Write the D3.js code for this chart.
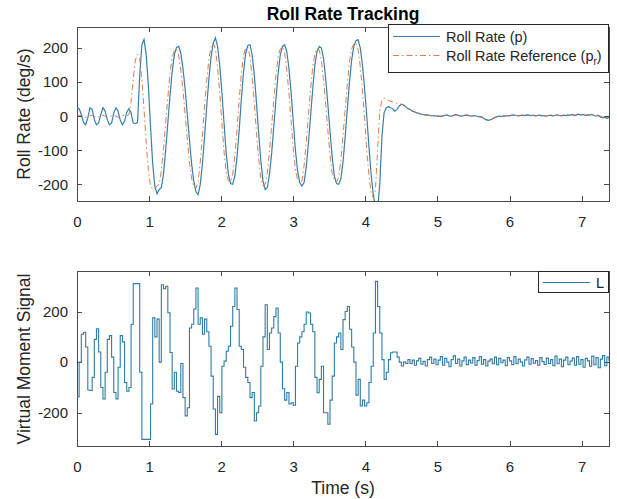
<!DOCTYPE html>
<html>
<head>
<meta charset="utf-8">
<script src="https://cdn.jsdelivr.net/npm/d3@7"></script>
<style>body{margin:0;background:#fff}</style>
</head>
<body>
<script>
// sample period of the logged signals (s)
const dt = 0.03;
const timeTicks = [0, 1, 2, 3, 4, 5, 6, 7];
const rateTicks = [-200, -100, 0, 100, 200];
const momentTicks = [-200, 0, 200];

// roll rate p (deg/s)
const rollRate = [
  25, 22, 5, -18, -25, -5, 25, 20, -10, -25, -20, 5, 25, 15, -10, -25, -20, 10, 25, 15, -12, -25, -15, 12, 22,
  10, -20, -22, -18, 120, 210, 225, 180, 90, -30, -140, -205, -228, -215, -210, -170, -100, -20, 60, 130, 180, 202, 205, 185, 140,
  80, 5, -70, -140, -190, -222, -230, -200, -140, -60, 30, 110, 175, 215, 230, 205, 150, 70, -20, -110, -170, -198, -200, -175, -120,
  -40, 50, 130, 185, 208, 210, 180, 120, 40, -50, -130, -190, -215, -210, -170, -110, -30, 50, 125, 180, 205, 210, 190, 140, 70,
  -15, -100, -160, -195, -205, -195, -150, -80, 0, 80, 150, 190, 205, 200, 170, 110, 35, -45, -120, -175, -198, -200, -185, -135, -60,
  20, 100, 165, 205, 222, 225, 200, 150, 80, 0, -90, -170, -230, -265, -275, -200, -60, 10, 25, 28, 25, 22, 15, 20, 30,
  35, 32, 28, 22, 20, 15, 13, 10, 9, 6, 5, 3, 4, 2, 1, 2, 0, 1, -1, 0, 2, 4, 1, 0, 2,
  5, 3, 1, 0, 2, 4, 2, 0, 1, 2, 0, -2, -1, -6, -10, -12, -11, -8, -4, -2, 0, -1, 1, 0, 2,
  1, 3, 4, 2, 1, 2, 3, 2, 4, 3, 2, 3, 1, 2, 3, 1, 2, 0, 2, 3, 1, 2, 4, 2, 1,
  3, 2, 4, 3, 5, 2, 4, 6, 3, 5, 2, 4, 3, 5, 2, 0, 3, -2, -5, -3, -6, -4
];

// roll rate reference p_r (deg/s)
const rollRateRef = [
  0, 2, 3, 0, -3, -2, 2, 3, 0, -3, -2, 2, 3, 0, -3, -2, 2, 3, 0, -3, -2, 2, 3, 0, 5,
  40, 110, 165, 182, 170, 110, 20, -80, -160, -205, -215, -212, -205, -200, -160, -95, -20, 55, 125, 172, 193, 197, 180, 135, 78,
  5, -68, -135, -182, -208, -212, -192, -135, -58, 30, 105, 168, 205, 215, 198, 145, 68, -20, -105, -165, -190, -193, -170, -115, -38,
  48, 125, 178, 200, 203, 175, 115, 38, -48, -125, -182, -205, -200, -165, -105, -28, 48, 120, 175, 198, 203, 185, 135, 68, -15,
  -95, -155, -188, -198, -190, -145, -78, 0, 78, 145, 183, 198, 195, 165, 105, 35, -43, -115, -168, -190, -193, -180, -130, -58, 20,
  95, 160, 198, 213, 215, 195, 145, 75, -10, -100, -175, -225, -240, -215, -100, 15, 48, 53, 50, 46, 44, 42, 40, 38, 36,
  35, 33, 30, 25, 20, 16, 12, 10, 8, 6, 5, 4, 3, 3, 2, 1, 1, 0, 0, 1, 2, 3, 2, 1, 1,
  3, 4, 2, 1, 1, 3, 3, 1, 0, 1, 1, -1, -3, -5, -8, -10, -10, -8, -5, -3, -1, 0, 0, 1, 1,
  2, 2, 3, 3, 2, 2, 2, 3, 3, 3, 2, 2, 2, 2, 2, 1, 1, 1, 2, 2, 2, 3, 3, 2, 2,
  2, 3, 3, 4, 4, 3, 3, 5, 4, 4, 3, 3, 4, 4, 3, 1, 1, 0, -2, -3, -4, -4
];

// virtual moment signal L
const momentL = [
  -137, 0, 110, 118, 60, -110, -112, -60, 90, 132, 40, -100, -145, -40, 90, 105, 20, -120, -145, -20, 105, 80, -80, -115, -100,
  150, 310, 310, 310, -40, -305, -305, -305, -305, -165, 175, 100, 170, 0, 306, 290, 300, 195, 38, -106, -40, -115, -120, -5, -140,
  -212, -180, 135, 150, 210, 293, 150, 175, 110, 170, 120, 63, -55, -185, -285, -135, -200, -16, 4, 43, 63, 142, 220, 293, 208,
  63, 50, -20, -60, -80, -140, -120, -232, -200, -173, -16, 100, 227, 50, 115, 135, 180, 214, 115, 0, -105, -150, -120, -165, -160,
  -170, -16, 76, 100, 120, 150, 198, 194, 150, 120, -60, -121, -68, -16, -200, -200, -245, -150, -55, 76, 100, 115, 50, 168, 200,
  220, 130, 60, 0, -130, -68, -173, -150, -173, -160, -80, -16, 115, 319, 220, 115, 10, -68, -40, 10, 37, 40, 40, 20, 0,
  -15, 0, -5, 10, -5, 8, -12, 5, 15, -8, 3, -15, 10, 20, -5, 12, -10, 8, 22, -12, 15, 0, -18, 10, 25,
  -5, 12, -15, 5, 20, -10, 8, -3, 18, -12, 6, 22, -8, 10, -15, 4, 12, -6, 20, -10, 15, -2, 8, -14, 18,
  5, -10, 22, -6, 12, 0, -15, 9, 20, -8, 14, -4, 6, -12, 18, 2, -9, 16, -5, 10, -14, 24, -6, 12, -18,
  8, 20, -10, 4, 16, -12, 22, -8, 10, -20, 15, 5, -16, 24, -10, 18, -22, 12, 26, -14, 20, 4
];

const W = 617, H = 499;
const font = "'Liberation Sans', Arial, Helvetica, sans-serif";
const axisColor = "#4a4a4a";
const textColor = "#262626";
const blue = "#3680ad";
const orange = "#d9652e";

const svg = d3.select("body").append("svg")
  .attr("width", W).attr("height", H)
  .style("font-family", font)
  .style("background", "#fff");

const x = d3.scaleLinear().domain([0, 7.38]).range([77, 609]);
const yTop = d3.scaleLinear().domain([-249, 262]).range([201, 27]);
const yBot = d3.scaleLinear().domain([-331, 360]).range([446, 271]);

const fmt = d => String(d);

function drawAxes(y, yticks, id) {
  const [y0, y1] = y.range();
  const [x0, x1] = x.range();

  svg.append("clipPath").attr("id", id)
    .append("rect").attr("x", x0).attr("y", y1).attr("width", x1 - x0).attr("height", y0 - y1);

  const bottom = svg.append("g").attr("transform", `translate(0,${y0})`)
    .call(d3.axisBottom(x).tickValues(timeTicks).tickFormat(fmt).tickSizeInner(-5).tickSizeOuter(0).tickPadding(15));
  const top = svg.append("g").attr("transform", `translate(0,${y1})`)
    .call(d3.axisTop(x).tickValues(timeTicks).tickFormat("").tickSizeInner(-5).tickSizeOuter(0));
  const left = svg.append("g").attr("transform", `translate(${x0},0)`)
    .call(d3.axisLeft(y).tickValues(yticks).tickFormat(fmt).tickSizeInner(-5).tickSizeOuter(0).tickPadding(9));
  const right = svg.append("g").attr("transform", `translate(${x1},0)`)
    .call(d3.axisRight(y).tickValues(yticks).tickFormat("").tickSizeInner(-5).tickSizeOuter(0));

  for (const a of [bottom, top, left, right]) {
    a.selectAll("path, line").attr("stroke", axisColor).attr("shape-rendering", "crispEdges");
    a.selectAll("text").attr("fill", textColor).style("font-size", "15px").style("font-family", font);
  }
}

function trace(y, curve) {
  return d3.line()
    .x((d, i) => x(i * dt))
    .y(d => y(d))
    .curve(curve);
}

// ---- top panel
drawAxes(yTop, rateTicks, "clipTop");
svg.append("path").datum(rollRate)
  .attr("clip-path", "url(#clipTop)")
  .attr("d", trace(yTop, d3.curveLinear))
  .attr("fill", "none").attr("stroke", blue).attr("stroke-width", 1.2);
svg.append("path").datum(rollRateRef)
  .attr("clip-path", "url(#clipTop)")
  .attr("d", trace(yTop, d3.curveLinear))
  .attr("fill", "none").attr("stroke", orange).attr("stroke-width", 1)
  .attr("stroke-dasharray", "6,3,1.5,3").attr("opacity", 0.85);

svg.append("text").attr("x", 343).attr("y", 20)
  .attr("text-anchor", "middle").attr("fill", "#000")
  .style("font-size", "17.5px").style("font-weight", "bold")
  .text("Roll Rate Tracking");

svg.append("text")
  .attr("transform", "translate(30,114) rotate(-90)")
  .attr("text-anchor", "middle").attr("fill", textColor)
  .style("font-size", "17.5px")
  .text("Roll Rate (deg/s)");

// legend top
const lg = svg.append("g");
lg.append("rect").attr("x", 388.5).attr("y", 24.5).attr("width", 220).attr("height", 48)
  .attr("fill", "#fff").attr("stroke", textColor).attr("stroke-width", 1);
lg.append("line").attr("x1", 393).attr("x2", 440).attr("y1", 36.5).attr("y2", 36.5)
  .attr("stroke", blue).attr("stroke-width", 1.2);
lg.append("line").attr("x1", 393).attr("x2", 440).attr("y1", 55.5).attr("y2", 55.5)
  .attr("stroke", orange).attr("stroke-width", 1).attr("stroke-dasharray", "6,3,1.5,3").attr("opacity", 0.85);
lg.append("text").attr("x", 446).attr("y", 41.5).attr("fill", textColor)
  .style("font-size", "14.5px").text("Roll Rate (p)");
const ref = lg.append("text").attr("x", 446).attr("y", 60.5).attr("fill", textColor)
  .style("font-size", "14.5px");
ref.append("tspan").text("Roll Rate Reference (p");
ref.append("tspan").attr("dy", 4).style("font-size", "10px").text("r");
ref.append("tspan").attr("dy", -4).text(")");

// ---- bottom panel
drawAxes(yBot, momentTicks, "clipBot");
svg.append("path").datum(momentL)
  .attr("clip-path", "url(#clipBot)")
  .attr("d", trace(yBot, d3.curveStepAfter))
  .attr("fill", "none").attr("stroke", "#2f7ca6").attr("stroke-width", 1.1);

svg.append("text")
  .attr("transform", "translate(30,359) rotate(-90)")
  .attr("text-anchor", "middle").attr("fill", textColor)
  .style("font-size", "17.5px")
  .text("Virtual Moment Signal");

svg.append("text").attr("x", 343).attr("y", 494)
  .attr("text-anchor", "middle").attr("fill", textColor)
  .style("font-size", "17.5px")
  .text("Time (s)");

const lb = svg.append("g");
lb.append("rect").attr("x", 538.5).attr("y", 271.5).attr("width", 70).attr("height", 21)
  .attr("fill", "#fff").attr("stroke", textColor).attr("stroke-width", 1);
lb.append("line").attr("x1", 543).attr("x2", 590).attr("y1", 282.5).attr("y2", 282.5)
  .attr("stroke", "#2f7ca6").attr("stroke-width", 1.1);
lb.append("text").attr("x", 596).attr("y", 287.5).attr("fill", textColor)
  .style("font-size", "14.5px").text("L");
</script>
</body>
</html>
